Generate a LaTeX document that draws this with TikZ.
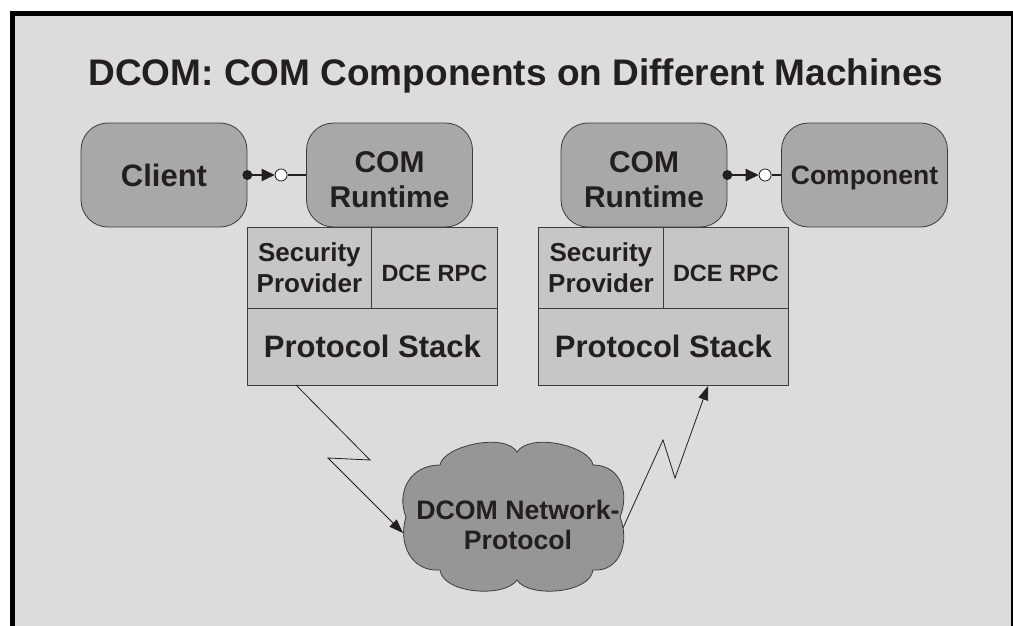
\documentclass[tikz,border=0pt]{standalone}
\usepackage{fontspec}
\setmainfont{Liberation Sans}
\usetikzlibrary{arrows.meta}
\definecolor{bg}{RGB}{220,220,220}
\definecolor{boxgray}{RGB}{168,168,168}
\definecolor{cellgray}{RGB}{198,198,198}
\definecolor{cloudgray}{RGB}{150,150,150}
\definecolor{edge}{RGB}{60,60,60}
\definecolor{ink}{RGB}{35,31,32}
\newcommand{\fsz}[2]{\bfseries\fontsize{#1}{#2}\selectfont}
\begin{document}
\begin{tikzpicture}[x=1pt, y=-1pt,
    box/.style={draw=edge, line width=0.8pt, fill=boxgray, rounded corners=27pt,
      minimum width=166pt, minimum height=104pt, align=center, text=ink},
    cell/.style={draw=edge, line width=0.8pt, fill=cellgray, inner sep=0pt,
      anchor=north west, align=center, text=ink},
    plug/.style={circle, draw=ink, fill=white, line width=0.8pt,
      minimum size=12pt, inner sep=0pt},
    wire/.style={ink, line width=2.5pt},
    bolt/.style={ink, line width=0.8pt, -{Triangle[length=14pt,width=10pt]}}]
    \useasboundingbox (0,0) rectangle (1013,626);
    \clip (0,0) rectangle (1013,626);
    \fill[white] (0,0) rectangle (1013,626);
    \fill[bg] (12.5,13.5) rectangle (1014,630);
    \draw[line width=5pt] (12.5,630) -- (12.5,13.5) -- (1013.5,13.5) -- (1013.5,630);

    \node[anchor=base, text=ink, font=\fsz{37}{44}] (title) at (516,85) {DCOM: COM Components on Different Machines};

    \node[box, font=\fsz{31}{37}] (client) at (164,175) {Client};
    \node[box, font=\fsz{30}{35}, text height=64pt, text depth=0pt] (rtL) at (389.5,175) {COM\\Runtime};
    \node[box, font=\fsz{30}{35}, text height=64pt, text depth=0pt] (rtR) at (644,175) {COM\\Runtime};
    \node[box, font=\fsz{26.5}{31}, text depth=0pt] (comp) at (864.5,175) {Component};

    % left machine
    \node[cell, minimum width=124pt, minimum height=81pt, font=\fsz{26}{31}] (secL) at (247,227) {Security\\Provider};
    \node[cell, minimum width=126pt, minimum height=81pt, font=\fsz{23.5}{28}, text height=27pt] (rpcL) at (371,227) {DCE RPC};
    \node[cell, minimum width=250pt, minimum height=77pt, font=\fsz{31}{37}] (stkL) at (247,308) {Protocol Stack};
    % right machine
    \node[cell, minimum width=125pt, minimum height=81pt, font=\fsz{26}{31}] (secR) at (538,227) {Security\\Provider};
    \node[cell, minimum width=125pt, minimum height=81pt, font=\fsz{23.5}{28}, text height=27pt] (rpcR) at (663,227) {DCE RPC};
    \node[cell, minimum width=250pt, minimum height=77pt, font=\fsz{31}{37}] (stkR) at (538,308) {Protocol Stack};

    \node[plug] (plugL) at ([xshift=-25pt]rtL.west) {};
    \fill[ink] (client.east) circle[radius=5pt];
    \draw[wire, -{Triangle[length=13pt,width=12pt]}] (client.east) -- (plugL);
    \draw[wire] (plugL) -- (rtL.west);

    \node[plug] (plugR) at ([xshift=-16pt]comp.west) {};
    \fill[ink] (rtR.east) circle[radius=5pt];
    \draw[wire, -{Triangle[length=13pt,width=12pt]}] (rtR.east) -- (plugR);
    \draw[wire] (plugR) -- (comp.west);

    % network cloud
    \draw[draw=edge, fill=cloudgray, line width=0.8pt] (440,465)
      .. controls (443,446) and (505,432) .. (517,452)
      .. controls (530,432) and (590,446) .. (593,465)
      .. controls (620,465) and (630,492) .. (620,517)
      .. controls (630,542) and (620,572) .. (593,570)
      .. controls (590,594) and (528,598) .. (517,580)
      .. controls (505,598) and (443,594) .. (440,570)
      .. controls (410,572) and (398,542) .. (406,517)
      .. controls (396,492) and (410,465) .. (440,465) -- cycle;
    \node[align=center, text=ink, font=\fsz{26.7}{30}] (net) at (518,525) {DCOM Network-\\Protocol};

    \coordinate (outL) at (296,385);
    \coordinate (inL) at (403,533);
    \coordinate (outR) at (623,528);
    \coordinate (inR) at (708,386);
    \draw[bolt] (outL) -- (370,460) -- (328,458) -- (inL);
    \draw[bolt] (outR) -- (663,440) -- (675,478) -- (inR);
\end{tikzpicture}
\end{document}
